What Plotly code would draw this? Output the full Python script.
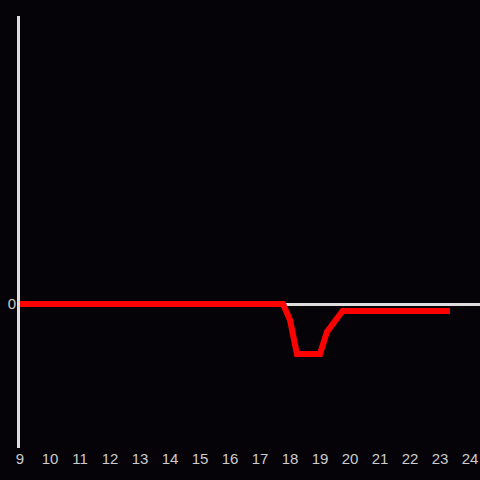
import plotly.graph_objects as go

x_vals = [9, 17.77, 18.0, 18.23, 19.0, 19.23, 19.75, 23.33]
y_vals = [0, 0, -0.111, -0.347, -0.347, -0.194, -0.049, -0.049]
x_ticks = list(range(9, 25))

fig = go.Figure()
fig.add_trace(go.Scatter(x=x_vals, y=y_vals, mode="lines",
                         line=dict(color="#ff0000", width=6), showlegend=False))

fig.update_layout(
    width=480, height=480,
    paper_bgcolor="#050308", plot_bgcolor="#050308",
    margin=dict(l=20, r=0, t=16, b=32),
    font=dict(family="Liberation Sans, Arial", size=14, color="#cccccc"),
    xaxis=dict(range=[9, 24.333], tickvals=x_ticks, showgrid=False, zeroline=False,
               showline=False, ticks="", tickfont=dict(size=15, color="#cccccc")),
    yaxis=dict(range=[-1, 2], tickvals=[0], showgrid=False, zeroline=True,
               zerolinecolor="#dddddd", zerolinewidth=3,
               showline=True, linecolor="#dddddd", linewidth=3, layer="above traces",
               ticks="", ticklabelstandoff=-2, tickfont=dict(size=15, color="#cccccc")),
)

fig.write_html("out.html", config={"displayModeBar": False},
               post_script="document.body.style.margin='0';document.body.style.background='#050308';")
